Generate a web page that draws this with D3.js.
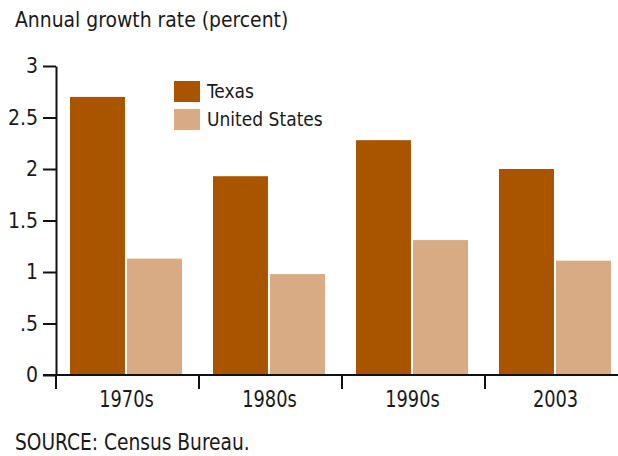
<!DOCTYPE html>
<html>
<head>
<meta charset="utf-8">
<script src="https://cdn.jsdelivr.net/npm/d3@7"></script>
<style>
  body { margin: 0; background: #fff; }
  text { font-family: "Liberation Sans Narrow", "DejaVu Sans Condensed", "Arial Narrow", sans-serif; fill: #1a1a1a; }
  .axis path, .axis line { stroke: #111; stroke-width: 2; }
</style>
</head>
<body>
<div id="chart"></div>
<script>
// chart data
var periods = ["1970s", "1980s", "1990s", "2003"];
var texas = [2.7, 1.93, 2.28, 2.0];
var unitedStates = [1.13, 0.98, 1.31, 1.11];
var seriesNames = ["Texas", "United States"];
var yTicks = [0, 0.5, 1, 1.5, 2, 2.5, 3];
var yTickLabels = ["0", ".5", "1", "1.5", "2", "2.5", "3"];
var colors = ["#a95500", "#d8ab85"];

var width = 618;
var height = 456;
var margin = {left: 56, top: 66, bottom: 81};

var svg = d3.select("#chart")
	.append("svg")
	.attr("width", width)
	.attr("height", height);

// text squeezed horizontally, the original uses a tall narrow face
function narrowText(parent, x, y, size, sx, anchor, str) {
	return parent.append("text")
		.attr("transform", "translate(" + x + "," + y + ") scale(" + sx + ",1)")
		.style("font-size", size + "px")
		.style("text-anchor", anchor)
		.text(str);
}

// scales
var x0 = d3.scaleBand()
	.domain(periods)
	.range([55, 55 + 143 * periods.length]);
var x1 = d3.scaleBand()
	.domain(seriesNames)
	.range([15, 127])
	.paddingInner(0.036);
var y = d3.scaleLinear()
	.domain([0, 3])
	.range([height - margin.bottom, margin.top]);

// bars
var rows = periods.map(function(p, i) {
	return {period: p, values: [texas[i], unitedStates[i]]};
});

var groups = svg.selectAll(".group")
	.data(rows)
	.enter()
	.append("g")
	.attr("class", "group")
	.attr("transform", function(d) { return "translate(" + x0(d.period) + ",0)"; });

groups.selectAll("rect")
	.data(function(d) {
		return d.values.map(function(v, j) { return {name: seriesNames[j], value: v, j: j}; });
	})
	.enter()
	.append("rect")
	.attr("x", function(d) { return x1(d.name); })
	.attr("y", function(d) { return y(d.value); })
	.attr("width", x1.bandwidth())
	.attr("height", function(d) { return y(0) - y(d.value); })
	.style("fill", function(d) { return colors[d.j]; });

// y axis
var yAxis = d3.axisLeft(y)
	.tickValues(yTicks)
	.tickFormat(function(d, i) { return yTickLabels[i]; })
	.tickSize(13)
	.tickSizeOuter(0)
	.tickPadding(5);
svg.append("g")
	.attr("class", "axis")
	.attr("transform", "translate(" + margin.left + ",0)")
	.call(yAxis)
	.selectAll("text")
	.style("font-size", "21px")
	.style("font-family", null);

// x axis: ticks at category edges, labels centred
var xAxisG = svg.append("g")
	.attr("class", "axis")
	.attr("transform", "translate(0," + y(0) + ")");
xAxisG.append("line")
	.attr("x1", margin.left - 13)
	.attr("x2", width)
	.attr("y1", 0)
	.attr("y2", 0);
xAxisG.selectAll(".tick")
	.data(periods)
	.enter()
	.append("line")
	.attr("x1", function(d) { return x0(d) + 1; })
	.attr("x2", function(d) { return x0(d) + 1; })
	.attr("y1", 0)
	.attr("y2", 14);
periods.forEach(function(p) {
	narrowText(xAxisG, x0(p) + x0.bandwidth() / 2, 32, 23, 0.86, "middle", p);
});

// title and source
narrowText(svg, 15, 27, 22, 0.95, "start", "Annual growth rate (percent)");
narrowText(svg, 15, 450, 23, 0.9, "start", "SOURCE: Census Bureau.");

// legend
var legend = svg.append("g")
	.attr("transform", "translate(174,81)");
legend.selectAll("rect")
	.data(seriesNames)
	.enter()
	.append("rect")
	.attr("x", 0)
	.attr("y", function(d, i) { return i * 28; })
	.attr("width", 26)
	.attr("height", 21)
	.style("fill", function(d, i) { return colors[i]; });
legend.selectAll("text")
	.data(seriesNames)
	.enter()
	.append("text")
	.attr("x", 33)
	.attr("y", function(d, i) { return i * 28 + 17; })
	.style("font-size", "19px")
	.text(function(d) { return d; });
</script>
</body>
</html>
